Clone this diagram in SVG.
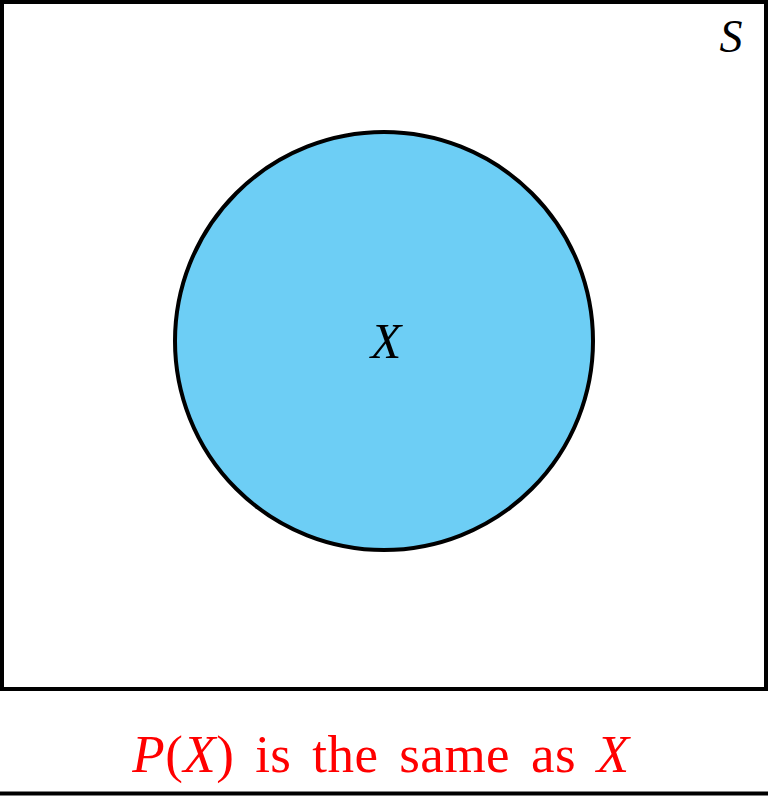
<svg xmlns="http://www.w3.org/2000/svg" width="768" height="800" viewBox="0 0 768 800">
<style>
.ln{stroke:#000;stroke-width:4;fill:none}
</style>
<rect width="768" height="800" fill="#fff"/>
<g id="universe">
<rect class="ln" x="2" y="2" width="764" height="687"/>
<text x="731" y="52" text-anchor="middle" font-family="'Liberation Serif', serif" font-style="italic" font-size="46">S</text>
</g>
<g id="setX">
<circle cx="384" cy="341" r="209" fill="#6dcef5" stroke="#000" stroke-width="4"/>
<text x="386" y="358" text-anchor="middle" font-family="'Liberation Serif', serif" font-style="italic" font-size="50">X</text>
</g>
<g id="caption">
<text x="381" y="772" text-anchor="middle" fill="#ff0000" font-family="'Liberation Serif', serif" font-size="53" word-spacing="7" letter-spacing="0.5"><tspan font-style="italic">P</tspan>(<tspan font-style="italic">X</tspan>) is the same as <tspan font-style="italic">X</tspan></text>
<line class="ln" x1="0" y1="793.5" x2="768" y2="793.5"/>
</g>
</svg>
